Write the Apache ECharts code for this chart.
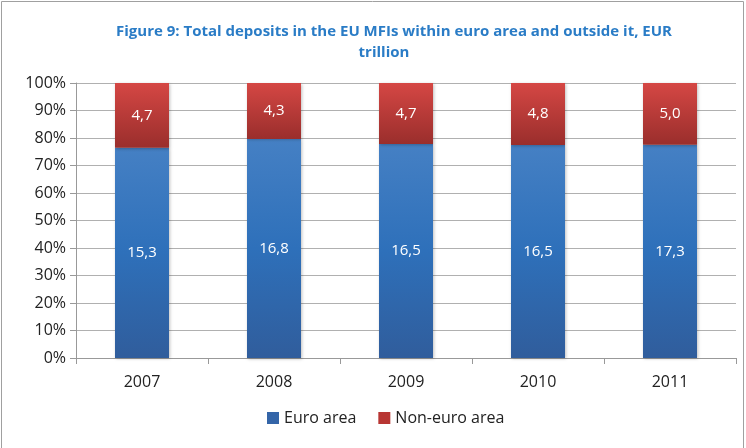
<!DOCTYPE html>
<html><head><meta charset="utf-8">
<script src="https://cdn.jsdelivr.net/npm/echarts@6/dist/echarts.min.js"></script>
<style>html,body{margin:0;padding:0;background:#fff}#c{width:746px;height:448px}</style>
</head><body><div id="c"></div>
<script>
const categories = ['2007','2008','2009','2010','2011'];
const euroArea = [15.3, 16.8, 16.5, 16.5, 17.3];
const nonEuroArea = [4.7, 4.3, 4.7, 4.8, 5.0];
const yTicks = [0,10,20,30,40,50,60,70,80,90,100];

const totals = categories.map((c,i)=>euroArea[i]+nonEuroArea[i]);
const euroPct = euroArea.map((v,i)=>({value: v/totals[i]*100, raw: v}));
const nonPct = nonEuroArea.map((v,i)=>({value: v/totals[i]*100, raw: v}));
const fmt = p => p.data.raw.toFixed(1).replace('.', ',');
const FONT = '"Open Sans", "Liberation Sans", sans-serif';
const titleStyle = {color:'#2a7cc6', fontSize:15, fontWeight:'bold', fontFamily:FONT};

const chart = echarts.init(document.getElementById('c'), null, {renderer:'canvas'});
chart.setOption({
  animation:false,
  graphic:[{type:'rect', shape:{x:1.5,y:1.5,width:742,height:460}, style:{fill:'none',stroke:'#a0a0a0',lineWidth:1}, z:-1}],
  title:[
    {text:'Figure 9: Total deposits in the EU MFIs within euro area and outside it, EUR',
     left:389, top:19, textAlign:'center', textStyle:titleStyle},
    {text:'trillion', left:379, top:40, textAlign:'center', textStyle:titleStyle}
  ],
  grid:{left:76, right:10, top:83, bottom:90},
  legend:{
    bottom:17, left:262, itemWidth:12, itemHeight:12, itemGap:22, icon:'rect',
    textStyle:{fontSize:16, color:'#222', fontFamily:FONT},
    data:[{name:'Euro area', itemStyle:{color:'#3465a8'}},{name:'Non-euro area', itemStyle:{color:'#b83633'}}]
  },
  xAxis:{
    type:'category', data:categories,
    axisLine:{lineStyle:{color:'#999'}},
    axisTick:{show:true, length:6, lineStyle:{color:'#999'}},
    axisLabel:{fontSize:16, color:'#222', margin:16, fontFamily:FONT}
  },
  yAxis:{
    type:'value', min:0, max:100, interval:10,
    axisLine:{show:true, lineStyle:{color:'#999'}},
    axisTick:{show:true, length:6, lineStyle:{color:'#999'}},
    splitLine:{lineStyle:{color:'#b0b0b0'}},
    axisLabel:{fontSize:16, color:'#222', margin:10, fontFamily:FONT, formatter:v=>v+'%'}
  },
  series:[
    {name:'Euro area', type:'bar', stack:'s', barWidth:54, data:euroPct,
     itemStyle:{color:new echarts.graphic.LinearGradient(0,0,0,1,[{offset:0,color:'#4580c4'},{offset:0.5,color:'#2e70ba'},{offset:1,color:'#305d9c'}]),
       shadowColor:'rgba(0,0,0,0.25)', shadowBlur:3, shadowOffsetX:1, shadowOffsetY:1},
     label:{show:true, position:'inside', color:'#fff', fontSize:15, fontFamily:FONT, formatter:fmt}},
    {name:'Non-euro area', type:'bar', stack:'s', barWidth:54, data:nonPct,
     itemStyle:{color:new echarts.graphic.LinearGradient(0,0,0,1,[{offset:0,color:'#d54744'},{offset:1,color:'#9a2e2c'}]),
       shadowColor:'rgba(0,0,0,0.25)', shadowBlur:3, shadowOffsetX:1, shadowOffsetY:1},
     label:{show:true, position:'inside', color:'#fff', fontSize:15, fontFamily:FONT, formatter:fmt}}
  ]
});
</script></body></html>
